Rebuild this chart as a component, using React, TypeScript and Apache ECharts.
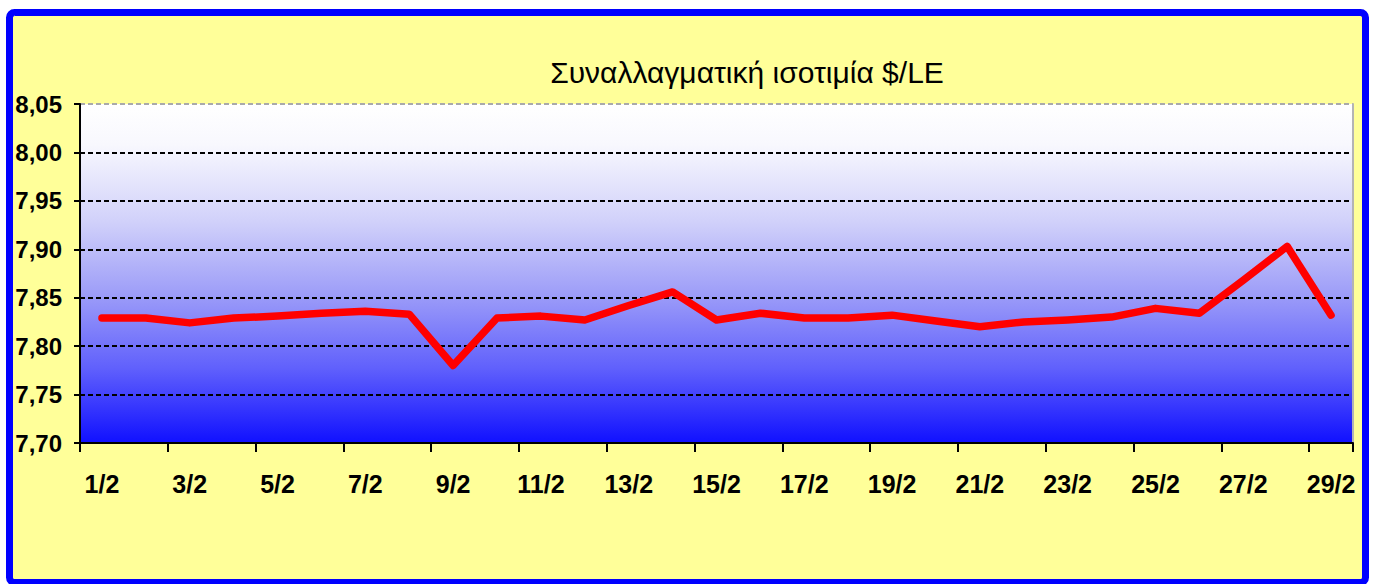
import React, { useEffect, useRef } from "react";
import * as echarts from "echarts";

const TITLE = "Συναλλαγματική ισοτιμία $/LE";

const categories = [
  "1/2", "2/2", "3/2", "4/2", "5/2", "6/2", "7/2", "8/2", "9/2", "10/2",
  "11/2", "12/2", "13/2", "14/2", "15/2", "16/2", "17/2", "18/2", "19/2", "20/2",
  "21/2", "22/2", "23/2", "24/2", "25/2", "26/2", "27/2", "28/2", "29/2",
];

const rates = [
  7.829, 7.829, 7.824, 7.829, 7.831, 7.834, 7.836, 7.833, 7.78, 7.829,
  7.831, 7.827, 7.842, 7.856, 7.827, 7.834, 7.829, 7.829, 7.832, 7.826,
  7.82, 7.825, 7.827, 7.83, 7.839, 7.834, 7.868, 7.903, 7.832,
];

const yMin = 7.7;
const yMax = 8.05;
const yStep = 0.05;

const FONT = "'Liberation Sans', Arial, sans-serif";

export default function App() {
  const ref = useRef<HTMLDivElement>(null);

  useEffect(() => {
    if (!ref.current) return;
    const chart = echarts.init(ref.current, null, { renderer: "svg" });
    chart.setOption({
      animation: false,
      backgroundColor: "#ffffff",
      title: {
        text: TITLE,
        left: 742,
        top: 52,
        textAlign: "center",
        textStyle: {
          fontFamily: FONT,
          fontSize: 30,
          fontWeight: "normal",
          color: "#000000",
        },
      },
      graphic: [
        {
          type: "rect",
          z: -10,
          silent: true,
          shape: { x: 9.5, y: 12.5, width: 1356, height: 570, r: 5 },
          style: { fill: "#ffff99", stroke: "#0000ff", lineWidth: 7 },
        },
      ],
      grid: {
        left: 80,
        right: 30,
        top: 104,
        bottom: 141,
        show: true,
        borderWidth: 0,
        backgroundColor: new echarts.graphic.LinearGradient(0, 0, 0, 1, [
          { offset: 0, color: "#ffffff" },
          { offset: 0.12, color: "#f8f8fe" },
          { offset: 0.35, color: "#d0d0fa" },
          { offset: 0.55, color: "#a0a0f8" },
          { offset: 0.78, color: "#6060fc" },
          { offset: 1, color: "#1010ff" },
        ]),
      },
      xAxis: {
        type: "category",
        data: categories,
        boundaryGap: true,
        axisLine: { show: true, lineStyle: { color: "#000000", width: 2 } },
        axisTick: {
          show: true,
          interval: 1,
          length: 9,
          lineStyle: { color: "#000000", width: 2 },
        },
        axisLabel: {
          interval: 1,
          margin: 28,
          fontFamily: FONT,
          fontSize: 25,
          fontWeight: "bold",
          color: "#000000",
        },
        splitLine: { show: false },
      },
      yAxis: [
        {
          type: "value",
          min: yMin,
          max: yMax,
          interval: yStep,
          axisLine: { show: true, lineStyle: { color: "#000000", width: 2 } },
          axisTick: {
            show: true,
            length: 6,
            lineStyle: { color: "#000000", width: 2 },
          },
          axisLabel: {
            margin: 18,
            fontFamily: FONT,
            fontSize: 24,
            fontWeight: "bold",
            color: "#000000",
            formatter: (v: number) => v.toFixed(2).replace(".", ","),
          },
          splitLine: {
            show: true,
            lineStyle: {
              color: [
                "#000000", "#000000", "#000000", "#000000",
                "#000000", "#000000", "#000000", "#aaaaaa",
              ],
              width: 2,
              type: [5, 3],
            },
          },
        },
        {
          type: "value",
          min: yMin,
          max: yMax,
          interval: yStep,
          position: "right",
          axisLine: { show: true, lineStyle: { color: "#b4b4b4", width: 2 } },
          axisTick: { show: false },
          axisLabel: { show: false },
          splitLine: { show: false },
        },
      ],
      series: [
        {
          type: "line",
          data: rates,
          yAxisIndex: 0,
          symbol: "none",
          lineStyle: { color: "#ff0000", width: 7.5, cap: "round", join: "round" },
          z: 5,
        },
      ],
    });
    return () => chart.dispose();
  }, []);

  return (
    <div
      ref={ref}
      style={{ position: "fixed", left: 0, top: 0, width: 1383, height: 584 }}
    />
  );
}
